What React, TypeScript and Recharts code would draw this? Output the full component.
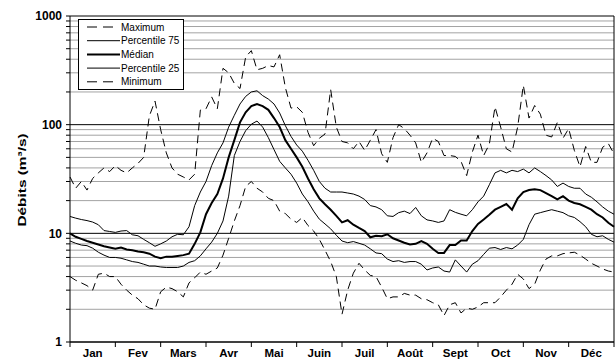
import React from 'react';
import { LineChart, Line, XAxis, YAxis, ReferenceLine, Legend } from 'recharts';

// Months of the hydrological year
const MONTHS = ['Jan', 'Fev', 'Mars', 'Avr', 'Mai', 'Juin', 'Juil', 'Août', 'Sept', 'Oct', 'Nov', 'Déc'];
// Daily flow statistics sampled 8 times per month (m3/s)
const STEPS_PER_MONTH = 8;

const maximum = [
  33, 26, 30, 25, 32, 36, 40, 37, 42,
  38, 36, 40, 44, 50, 120, 165, 90,
  55, 40, 35, 33, 31, 35, 136, 140,
  180, 140, 330, 300, 240, 215, 420, 480,
  320, 330, 350, 340, 440, 220, 142, 146,
  130, 85, 64, 75, 82, 210, 95, 70,
  68, 60, 70, 58, 72, 90, 54, 45,
  76, 100, 92, 80, 68, 45, 55, 75,
  70, 52, 52, 51, 46, 34, 56, 80,
  52, 66, 146, 95, 60, 56, 95, 230,
  115, 150, 125, 80, 77, 105, 75, 92,
  58, 41, 63, 45, 45, 62, 67, 54,
];

const percentile75 = [
  14.3, 13.8, 13.4, 13.1, 12.7, 12.0, 10.6, 10.4, 10.2,
  10.5, 10.6, 9.7, 9.5, 8.8, 8.2, 7.6, 8.0,
  8.5, 9.3, 9.8, 9.7, 11.5, 18, 24, 30,
  42, 55, 68, 95, 122, 155, 182, 200,
  205, 185, 172, 155, 128, 98, 78, 65,
  57, 47, 38, 30, 26, 24, 24, 24,
  23.5, 23, 22, 20.5, 18, 17.5, 16.5, 14.5,
  14.3, 15.5, 16, 15.2, 17.3, 14.5, 13.3, 13,
  12.6, 13, 16.5, 15.6, 15, 14.5, 16.5, 19.5,
  22, 28, 36, 38, 36, 38, 37, 39,
  36, 40, 37, 34, 31, 27, 29, 27,
  26, 26, 23, 21.5, 19.5, 17.5, 16, 15,
];

const median = [
  10, 9.3, 8.9, 8.5, 8.2, 7.9, 7.6, 7.4, 7.2,
  7.4, 7.1, 7.0, 6.8, 6.7, 6.5, 6.1, 5.9,
  6.1, 6.1, 6.2, 6.3, 6.5, 8.0, 10.2, 15,
  19, 23, 32, 50, 72, 105, 130, 148,
  155, 148, 137, 115, 95, 72, 60, 50,
  41, 32, 25.5, 21, 18.5, 16.5, 14.5, 12.6,
  13.2, 12, 11.2, 10.5, 9.2, 9.5, 9.4, 9.8,
  9.0, 8.6, 8.2, 7.9, 8.0, 8.5, 8.0, 7.2,
  6.6, 6.6, 7.8, 7.8, 8.6, 8.6, 10.5, 12.2,
  13.4, 14.8, 16.5, 17.5, 18.6, 16.5, 21, 24,
  25, 25.5, 25, 23.5, 22, 20.5, 22, 20,
  19, 18.5, 17.5, 16.5, 15, 14, 12.5, 11.5,
];

const percentile25 = [
  8.5, 8.1, 7.8, 7.7, 7.3, 6.7, 6.3, 6.0, 6.0,
  5.9, 5.7, 5.5, 5.4, 5.2, 5.0, 5.0, 4.9,
  4.85, 4.85, 4.85, 5.0, 5.4, 5.6, 6.2, 7.2,
  8.3, 10, 13, 22, 52, 70, 88, 101,
  108, 95, 76, 59, 46, 40, 35, 29,
  23, 19.5, 16, 13.5, 12.2, 11, 9.6, 8.5,
  8.2, 8.4, 8.1, 7.8, 7.2, 6.6, 6.5, 5.8,
  5.5, 5.6, 5.4, 5.5, 5.5, 5.2, 4.6, 4.8,
  4.9, 4.5, 4.4, 5.7, 5.0, 4.4, 5.2, 5.6,
  6.4, 7.3, 7.4, 7.1, 7.4, 7.2, 7.8, 8.8,
  12, 15, 15.5, 16, 16.5, 16, 15.5, 14.5,
  14, 12.8, 11.5, 9.8, 9.3, 9.5, 8.8, 8.3,
];

const minimum = [
  4.0, 3.7, 3.5, 3.3, 3.0, 4.2, 4.3, 4.0, 4.0,
  3.4, 3.0, 2.7, 2.5, 2.2, 2.05, 2.0, 2.9,
  3.2, 3.1, 2.9, 2.6, 3.5, 3.9, 4.4, 4.2,
  4.5, 4.8, 6.3, 9.0, 13, 18, 27, 30,
  26, 24, 21, 20, 16, 15.2, 13.5, 12.6,
  14, 11.8, 10.5, 8.8, 7, 5.5, 4, 1.8,
  3.0, 4.3, 5.3, 4.6, 4.1, 4.0, 3.2, 2.5,
  2.6, 2.6, 2.8, 2.7, 2.7, 2.5, 2.45, 2.3,
  2.2, 1.75, 2.2, 2.3, 1.85, 2.05, 2.0, 2.1,
  2.3, 2.3, 2.3, 2.6, 3.0, 3.4, 4.2, 3.8,
  3.1, 3.4, 4.6, 5.8, 6.2, 6.2, 6.5, 6.6,
  6.7, 6.3, 5.8, 5.3, 5.0, 4.7, 4.5, 4.4,
];

// Log axis: labelled decades and the intermediate grid levels
const DECADES = [1, 10, 100, 1000];
const MINOR_STEPS = [2, 3, 4, 5, 6, 7, 8, 9];
const MINOR_LEVELS = [1, 10, 100].flatMap((d) => MINOR_STEPS.map((s) => s * d));
const Y_TICKS = [...DECADES, ...MINOR_LEVELS].sort((a, b) => a - b);
const MONTH_TICKS = MONTHS.map((_, i) => i).concat(MONTHS.length);

const SERIES = [
  { key: 'max', name: 'Maximum', values: maximum, width: 1, dash: '8 5' },
  { key: 'p75', name: 'Percentile 75', values: percentile75, width: 1, dash: undefined },
  { key: 'med', name: 'Médian', values: median, width: 2, dash: undefined },
  { key: 'p25', name: 'Percentile 25', values: percentile25, width: 1, dash: undefined },
  { key: 'min', name: 'Minimum', values: minimum, width: 1, dash: '8 5' },
];

const data = median.map((_, i) => {
  const row: Record<string, number> = { m: i / STEPS_PER_MONTH };
  SERIES.forEach((s) => {
    row[s.key] = s.values[i];
  });
  return row;
});

const WIDTH = 615;
const HEIGHT = 364;
const MARGIN = { top: 16, right: 1, bottom: 0, left: 0 };
const Y_AXIS_WIDTH = 70;
const X_AXIS_HEIGHT = 22;
const PLOT_WIDTH = WIDTH - MARGIN.left - MARGIN.right - Y_AXIS_WIDTH;
const MONTH_PX = PLOT_WIDTH / MONTHS.length;

const FONT = '"Liberation Sans", Arial, sans-serif';

const MonthTick = (props: any) => {
  const { x, y, payload } = props;
  const label = MONTHS[payload.value];
  if (!label) return null;
  return (
    <text x={x + MONTH_PX / 2} y={y} dy="0.71em" textAnchor="middle" fontFamily={FONT} fontWeight="bold" fontSize={11.5} fill="#000">
      {label}
    </text>
  );
};

const FlowTick = (props: any) => {
  const { x, y, payload } = props;
  if (!DECADES.includes(payload.value)) return null;
  return (
    <text x={x} y={y} dy="0.36em" textAnchor="end" fontFamily={FONT} fontWeight="bold" fontSize={12} fill="#000">
      {payload.value}
    </text>
  );
};

const LegendBox = () => (
  <div style={{ width: 104, height: 69, border: '1px solid #000', background: '#fff' }}>
    <svg width={104} height={69}>
      {SERIES.map((s, i) => {
        const cy = 7 + i * 13.7;
        return (
          <g key={s.key}>
            <line x1={8} x2={s.dash ? 36 : 41} y1={cy} y2={cy} stroke="#000" strokeWidth={s.width} strokeDasharray={s.dash ? '10 6' : undefined} />
            <text x={42} y={cy} dy="0.35em" fontFamily={FONT} fontSize={10} fill="#000">
              {s.name}
            </text>
          </g>
        );
      })}
    </svg>
  </div>
);

export default function App() {
  return (
    <div style={{ position: 'absolute', left: 0, top: 0, width: WIDTH, height: HEIGHT, background: '#fff' }}>
      <LineChart width={WIDTH} height={HEIGHT} data={data} margin={MARGIN}>
        {MINOR_LEVELS.map((v) => (
          <ReferenceLine key={`g${v}`} y={v} stroke="#a3a3a3" strokeWidth={1} />
        ))}
        {DECADES.map((v) => (
          <ReferenceLine key={`d${v}`} y={v} stroke="#000" strokeWidth={1} />
        ))}
        <ReferenceLine x={MONTHS.length} stroke="#000" strokeWidth={1} />
        <XAxis
          dataKey="m"
          type="number"
          domain={[0, MONTHS.length]}
          ticks={MONTH_TICKS}
          interval={0}
          height={X_AXIS_HEIGHT}
          tickSize={5}
          tickMargin={2}
          stroke="#000"
          tick={<MonthTick />}
        />
        <YAxis
          type="number"
          scale="log"
          domain={[1, 1000]}
          allowDataOverflow
          ticks={Y_TICKS}
          interval={0}
          width={Y_AXIS_WIDTH}
          tickSize={4}
          tickMargin={4}
          stroke="#000"
          tick={<FlowTick />}
          label={{
            content: () => (
              <text transform="translate(22,180) rotate(-90) scale(1.4,1.05)" textAnchor="middle" dy="0.35em" fontFamily={FONT} fontWeight="bold" fontSize={11} fill="#000">
                Débits (m³/s)
              </text>
            ),
          }}
        />
        <Legend
          layout="vertical"
          align="center"
          verticalAlign="middle"
          wrapperStyle={{ left: 78, top: 19, width: 106, height: 71 }}
          content={() => <LegendBox />}
        />
        {SERIES.map((s) => (
          <Line
            key={s.key}
            dataKey={s.key}
            name={s.name}
            type="linear"
            stroke="#000"
            strokeWidth={s.width}
            strokeDasharray={s.dash}
            dot={false}
            activeDot={false}
            isAnimationActive={false}
          />
        ))}
      </LineChart>
    </div>
  );
}
